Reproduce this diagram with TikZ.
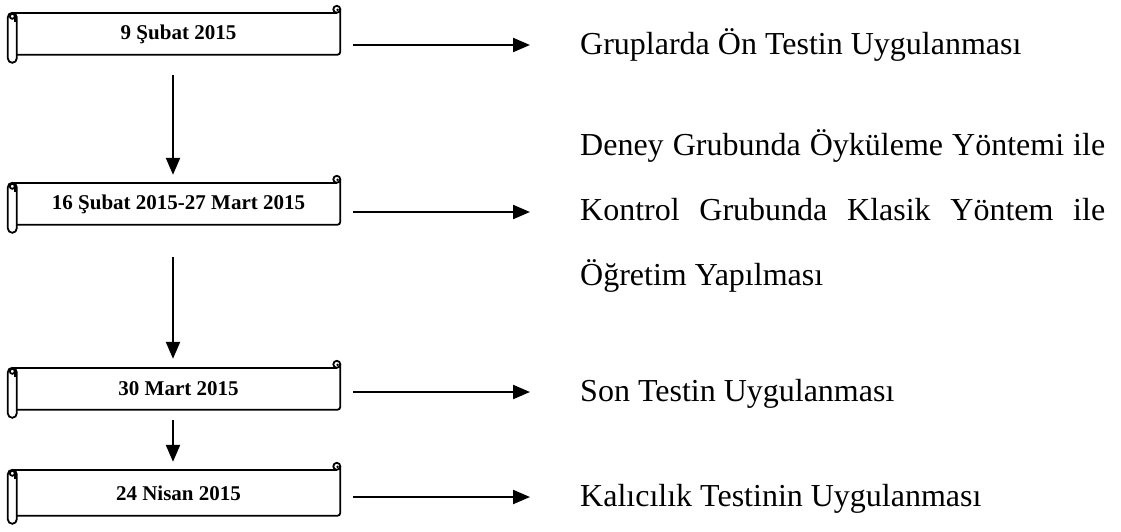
\documentclass[tikz,border=0pt]{standalone}
\usepackage{fontspec}
\setmainfont{Liberation Serif}
\usepackage{tikz}
\usetikzlibrary{
    arrows.meta,
    positioning,
    calc
}
\tikzset{
  scrl/.style  = {line width=1.8pt, black},
  arr/.style   = {-{Triangle[length=17pt,width=14pt]}, line width=2.2pt}
}
\hbadness=10000
% scroll drawn round a date node: #1 name, #2 height of the body
\newcommand{\scrollround}[2]{%
  \begin{scope}[shift={(#1.north west)}]
    \draw[scrl] (-5,0) -- (320,0);
    \draw[scrl, rounded corners=3pt] (323.5,-3.5) -- (323.5,#2) -- (0,#2);
    \draw[scrl] (320,-3.5) circle (3.5);
    \fill (320.8,-3) circle (1.4);
    \draw[scrl, fill=white, rounded corners=4.5pt] (-9,0) rectangle (0,#2+8);
    \draw[scrl] (-4.5,3.5) circle (2.5);
    \draw[scrl] (-2,3.5) -- (-2,9);
  \end{scope}}

\begin{document}
\begin{tikzpicture}[
    x=1pt, y=-1pt,
    date/.style={minimum width=323pt, inner sep=0pt, align=center,
                 font=\fontsize{21}{25}\selectfont\bfseries},
    desc/.style={anchor=west, inner sep=0pt, text height=25pt, text depth=6pt,
                 font=\fontsize{32}{65}\selectfont}
  ]
    \useasboundingbox (0,0) rectangle (1121,531);
    % Dates
    \node[date, minimum height=42pt](d1) at (178.5, 34)  {9 Şubat 2015};
    \node[date, minimum height=42pt](d2) at (178.5, 204) {16 Şubat 2015-27 Mart 2015};
    \node[date, minimum height=42pt](d3) at (178.5, 389) {30 Mart 2015};
    \node[date, minimum height=46pt](d4) at (178.5, 493) {24 Nisan 2015};
    \scrollround{d1}{42}
    \scrollround{d2}{42}
    \scrollround{d3}{42}
    \scrollround{d4}{46}

    % Descriptions
    \node[desc](t1) at (580, 45)  {Gruplarda Ön Testin Uygulanması};
    \node[anchor=west, inner sep=0pt, text width=525pt, align=justify,
          font=\fontsize{32}{65}\selectfont](t2) at (580, 212)
      {\rule{0pt}{30pt}Deney Grubunda Öyküleme Yöntemi ile\linebreak
       Kontrol Grubunda Klasik Yöntem ile\linebreak
       Öğretim Yapılması\rule[-14pt]{0pt}{14pt}};
    \node[desc](t3) at (580, 392) {Son Testin Uygulanması};
    \node[desc](t4) at (580, 497) {Kalıcılık Testinin Uygulanması};

    \draw[arr, shorten <=20pt, shorten >=8pt]  ([xshift=-5.5pt]d1.south) -- ([xshift=-5.5pt]d2.north);
    \draw[arr, shorten <=32pt, shorten >=9pt]  ([xshift=-5.5pt]d2.south) -- ([xshift=-5.5pt]d3.north);
    \draw[arr, shorten <=10pt, shorten >=8pt]  ([xshift=-5.5pt]d3.south) -- ([xshift=-5.5pt]d4.north);

    \draw[arr, shorten <=13pt, shorten >=50pt] (d1.east |- t1.west) -- (t1.west);
    \draw[arr, shorten <=13pt, shorten >=50pt] (d2.east |- t2.west) -- (t2.west);
    \draw[arr, shorten <=13pt, shorten >=50pt] (d3.east |- t3.west) -- (t3.west);
    \draw[arr, shorten <=13pt, shorten >=50pt] (d4.east |- t4.west) -- (t4.west);
  \end{tikzpicture}
\end{document}
